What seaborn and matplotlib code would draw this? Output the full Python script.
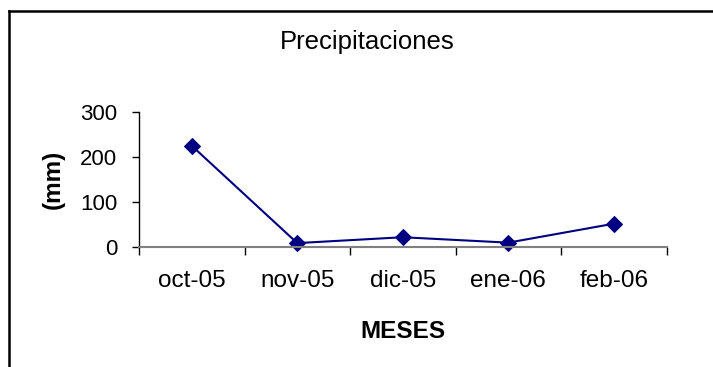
import matplotlib
matplotlib.use("Agg")
import matplotlib.pyplot as plt
from matplotlib.lines import Line2D
from matplotlib.ticker import FixedLocator, NullFormatter
import seaborn as sns
import pandas as pd

# Monthly precipitation (mm)
meses = ["oct-05", "nov-05", "dic-05", "ene-06", "feb-06"]
precipitacion = [224, 8, 21, 9, 51]

sns.set_style("white")
plt.rcParams["font.family"] = ["Liberation Sans", "DejaVu Sans"]
plt.rcParams["text.color"] = "black"
plt.rcParams["xtick.color"] = "black"
plt.rcParams["ytick.color"] = "black"
plt.rcParams["axes.labelcolor"] = "black"

df = pd.DataFrame({"pos": range(len(meses)), "mes": meses, "mm": precipitacion})

W, H = 713, 367
fig = plt.figure(figsize=(W / 100, H / 100), dpi=100)

# axes box in pixels: left 139, right 666.5, zero line 246.7, 300 at 111.5
left, right, y0, ytop = 139, 666.5, 246.7, 111.5
ax = fig.add_axes([left / W, 1 - y0 / H, (right - left) / W, (y0 - ytop) / H])

sns.lineplot(data=df, x="pos", y="mm", ax=ax, color="#000080", linewidth=1.5,
             marker="D", markersize=8, markeredgecolor="#000080", clip_on=False)

ax.set_xlim(-0.5, len(meses) - 0.5)
ax.set_ylim(0, 300)
ax.set_yticks([0, 100, 200, 300])

# category labels centred, tick marks on the category boundaries
ax.set_xticks(range(len(meses)))
ax.set_xticklabels(meses)
ax.xaxis.set_minor_locator(FixedLocator([i - 0.5 for i in range(len(meses) + 1)]))
ax.xaxis.set_minor_formatter(NullFormatter())
ax.tick_params(axis="x", which="major", length=0, pad=16.5, labelsize=17.5)
ax.tick_params(axis="x", which="minor", length=6, width=1, color="black", direction="out", bottom=True)
ax.tick_params(axis="y", length=5, width=1, color="black", direction="out", pad=10.5, labelsize=16, left=True)

for s in ["top", "right"]:
    ax.spines[s].set_visible(False)
ax.spines["left"].set_color("black")
ax.spines["left"].set_linewidth(1)
ax.spines["bottom"].set_color("#808080")
ax.spines["bottom"].set_linewidth(1.5)

ax.set_xlabel("MESES", fontsize=17.5, fontweight="bold", va="baseline")
ax.xaxis.set_label_coords(0.5, (y0 - 337.7) / (y0 - ytop))
ax.set_ylabel("(mm)", fontsize=17.5, fontweight="bold", va="center")
ax.yaxis.set_label_coords((53 - left) / (right - left), 0.5)

fig.text(367.7 / W, 1 - 49.3 / H, "Precipitaciones", ha="center", va="baseline", fontsize=18.5)

# outer chart frame (left and top edges visible)
fig.add_artist(Line2D([8.7 / W, 8.7 / W], [0, 1 - 11.3 / H], color="black", linewidth=1.8,
                      solid_capstyle="projecting", transform=fig.transFigure))
fig.add_artist(Line2D([8.7 / W, 1], [1 - 11.3 / H, 1 - 11.3 / H], color="black", linewidth=1.8,
                      solid_capstyle="projecting", transform=fig.transFigure))

fig.savefig("out.png", dpi=100, facecolor="white")
